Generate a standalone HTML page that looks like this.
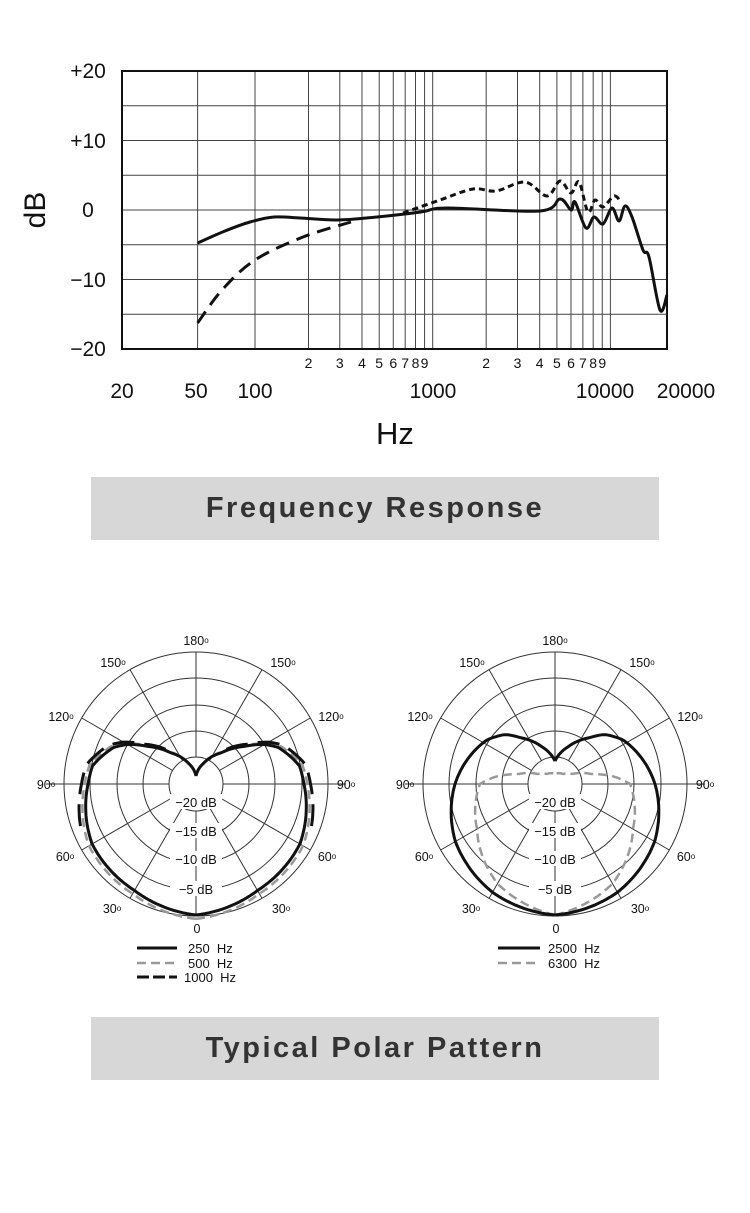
<!DOCTYPE html>
<html><head><meta charset="utf-8"><style>
body{margin:0;background:#fff;width:750px;height:1213px;overflow:hidden;font-family:"Liberation Sans",Arial,sans-serif}
.bar{position:absolute;left:91px;width:568px;height:63px;background:#d7d7d7;color:#333;font-weight:bold;font-size:29px;letter-spacing:2.5px;text-align:center;line-height:63px}
</style></head><body>
<svg id="s" width="750" height="1213" style="position:absolute;left:0;top:0" font-family="Liberation Sans, Arial, sans-serif"></svg>
<div class="bar" style="top:477px">Frequency Response</div>
<div class="bar" style="top:1017px">Typical Polar Pattern</div>
<script>
var s=document.getElementById('s'),h='';
function X(f){return 255+177.7*Math.log10(f/100);}
for(var i=0;i<=8;i++){var y=71+i*34.75;h+='<line x1="122" x2="667" y1="'+y+'" y2="'+y+'" stroke="#444" stroke-width="1"/>';}
var fs=[50,100,200,300,400,500,600,700,800,900,1000,2000,3000,4000,5000,6000,7000,8000,9000,10000];
fs.forEach(function(f){var x=f==50?197.6:X(f);h+='<line x1="'+x+'" x2="'+x+'" y1="71" y2="349" stroke="#444" stroke-width="1"/>';});
h+='<rect x="122" y="71" width="545" height="278" fill="none" stroke="#111" stroke-width="2"/>';
[['+20',71],['+10',141],['0',210],['\u221210',280],['\u221220',349]].forEach(function(a){h+='<text x="88" y="'+(a[1]+7)+'" font-size="21" text-anchor="middle" fill="#111">'+a[0]+'</text>';});
h+='<text transform="translate(45,210) rotate(-90)" font-size="30" text-anchor="middle" fill="#111">dB</text>';
[[20,122],[50,196],[100,255],[1000,433],[10000,605],[20000,686]].forEach(function(a){h+='<text x="'+a[1]+'" y="398" font-size="21" text-anchor="middle" fill="#111">'+a[0]+'</text>';});
h+='<text x="395" y="444" font-size="31" text-anchor="middle" fill="#111">Hz</text>';
[2,3,4,5,6,7,8,9].forEach(function(d){[100,1000].forEach(function(b){h+='<text x="'+X(d*b)+'" y="368" font-size="14" text-anchor="middle" fill="#111">'+d+'</text>';});});
function path(p){return 'M'+p.map(function(q){return q[0]+','+q[1]}).join(' L');}
function smooth(p){var d='M'+p[0][0]+','+p[0][1];for(var i=0;i<p.length-1;i++){var p0=p[i-1]||p[i],p1=p[i],p2=p[i+1],p3=p[i+2]||p2;d+=' C'+(p1[0]+(p2[0]-p0[0])/6)+','+(p1[1]+(p2[1]-p0[1])/6)+' '+(p2[0]-(p3[0]-p1[0])/6)+','+(p2[1]-(p3[1]-p1[1])/6)+' '+p2[0]+','+p2[1];}return d;}
var solid=[[197.6,243],[225,231],[250,222],[274,217],[300,218],[337,220],[377,217],[421,212],[447,208],[540,211],[560,199],[571,210],[575,202],[586,228],[594,217],[603,224],[612,208],[619,221],[625,206],[632,217],[643,250],[649,257],[660,310],[667,295]];
var ld=[[197.6,323],[222,290],[255,260],[303,237],[351,222]];
var sd=[[403,213],[440,200],[473,189],[496,191],[525,182],[547,196],[560,181],[571,193],[579,182],[588,212],[595,200],[603,207],[614,196],[621,202]];
h+='<path d="'+smooth(solid)+'" fill="none" stroke="#111" stroke-width="3"/>';
h+='<path d="'+smooth(ld)+'" fill="none" stroke="#111" stroke-width="3" stroke-dasharray="14,8"/>';
h+='<path d="'+smooth(sd)+'" fill="none" stroke="#111" stroke-width="3" stroke-dasharray="6,4"/>';
function grid(cx,cy){var g='';[132,106,79,53,27].forEach(function(r){g+='<circle cx="'+cx+'" cy="'+cy+'" r="'+r+'" fill="none" stroke="#333" stroke-width="1"/>';});
for(var a=0;a<360;a+=30){var t=a*Math.PI/180,s1=Math.sin(t),c1=Math.cos(t);if(a==0||a==180)continue;if(a==90||a==270){g+='<line x1="'+(cx+s1*150)+'" y1="'+cy+'" x2="'+(cx+s1*27)+'" y2="'+cy+'" stroke="#333"/>';continue;}
g+='<line x1="'+(cx+s1*27)+'" y1="'+(cy+c1*27)+'" x2="'+(cx+s1*132)+'" y2="'+(cy+c1*132)+'" stroke="#333"/>';}
g+='<line x1="'+cx+'" y1="'+(cy-132)+'" x2="'+cx+'" y2="'+(cy-27)+'" stroke="#333"/><line x1="'+cx+'" y1="'+(cy+27)+'" x2="'+cx+'" y2="'+(cy+132)+'" stroke="#333"/>';
[['\u221220 dB',806],['\u221215 dB',835],['\u221210 dB',863],['\u22125 dB',893]].forEach(function(l){g+='<rect x="'+(cx-26)+'" y="'+(l[1]-12)+'" width="52" height="15" fill="#fff"/><text x="'+cx+'" y="'+(l[1]+1)+'" font-size="13" text-anchor="middle" fill="#111">'+l[0]+'</text>';});
var lab=[['180',0,-144],['150',-83,-122],['150',87,-122],['120',-135,-68],['120',135,-68],['90',-150,0],['90',150,0],['60',-131,72],['60',131,72],['30',-84,124],['30',85,124],['0',1,144]];
lab.forEach(function(l){g+='<text x="'+(cx+l[1])+'" y="'+(cy+l[2]+5)+'" font-size="12.5" text-anchor="middle" fill="#111">'+l[0]+(l[0]=='0'?'':'<tspan font-size="8" dy="-2">o</tspan>')+'</text>';});
return g;}
function interp(tab,a){for(var i=0;i<tab.length-1;i++){if(a>=tab[i][0]&&a<=tab[i+1][0]){var u=(a-tab[i][0])/(tab[i+1][0]-tab[i][0]);return tab[i][1]+(tab[i+1][1]-tab[i][1])*u;}}return tab[tab.length-1][1];}
function curve(cx,cy,tab,k,a0,a1){var d='';[1,-1].forEach(function(sg){var p=[];for(var a=a0;a<=a1;a+=2){var r=interp(tab,a)*k,t=a*Math.PI/180;p.push([(cx+sg*r*Math.sin(t)).toFixed(1),(cy+r*Math.cos(t)).toFixed(1)]);}d+=path(p)+' ';});return d;}
h+=grid(196,784)+grid(555,784);
var L250=[[0,131],[30,123],[60,120],[90,108],[100,105],[114,90],[120,79],[128,61],[141,40],[160,22],[180,8]];
h+='<path d="'+curve(196,784,L250,1.03,0,180)+'" fill="none" stroke="#999" stroke-width="2.5" stroke-dasharray="9,5"/>';
h+='<path d="'+curve(196,784,L250,1,0,180)+'" fill="none" stroke="#111" stroke-width="3"/>';
h+='<path d="'+curve(196,784,L250,1.06,70,140)+'" fill="none" stroke="#111" stroke-width="3" stroke-dasharray="22,10"/>';
var R25=[[0,131],[30,125],[60,115],[90,100],[123,81],[135,70],[143,58],[160,40],[180,23]];
var R63=[[0,131],[30,115],[60,90],[90,75],[97,60],[105,38],[120,20],[140,13],[180,10]];
h+='<path d="'+curve(555,784,R63,1,0,180)+'" fill="none" stroke="#999" stroke-width="2.5" stroke-dasharray="9,5"/>';
h+='<path d="'+curve(555,784,R25,1,0,180)+'" fill="none" stroke="#111" stroke-width="3"/>';
h+='<line x1="137" x2="177" y1="948" y2="948" stroke="#111" stroke-width="3"/><line x1="137" x2="177" y1="963" y2="963" stroke="#999" stroke-width="2.5" stroke-dasharray="9,5"/><line x1="137" x2="177" y1="977" y2="977" stroke="#111" stroke-width="3" stroke-dasharray="12,4"/>';
h+='<text x="188" y="953" font-size="13" fill="#111">250 &#160;Hz</text><text x="188" y="968" font-size="13" fill="#111">500 &#160;Hz</text><text x="184" y="982" font-size="13" fill="#111">1000 &#160;Hz</text>';
h+='<line x1="498" x2="540" y1="948" y2="948" stroke="#111" stroke-width="3"/><line x1="498" x2="540" y1="963" y2="963" stroke="#999" stroke-width="2.5" stroke-dasharray="9,5"/>';
h+='<text x="548" y="953" font-size="13" fill="#111">2500 &#160;Hz</text><text x="548" y="968" font-size="13" fill="#111">6300 &#160;Hz</text>';
s.innerHTML=h;
</script>
</body></html>
